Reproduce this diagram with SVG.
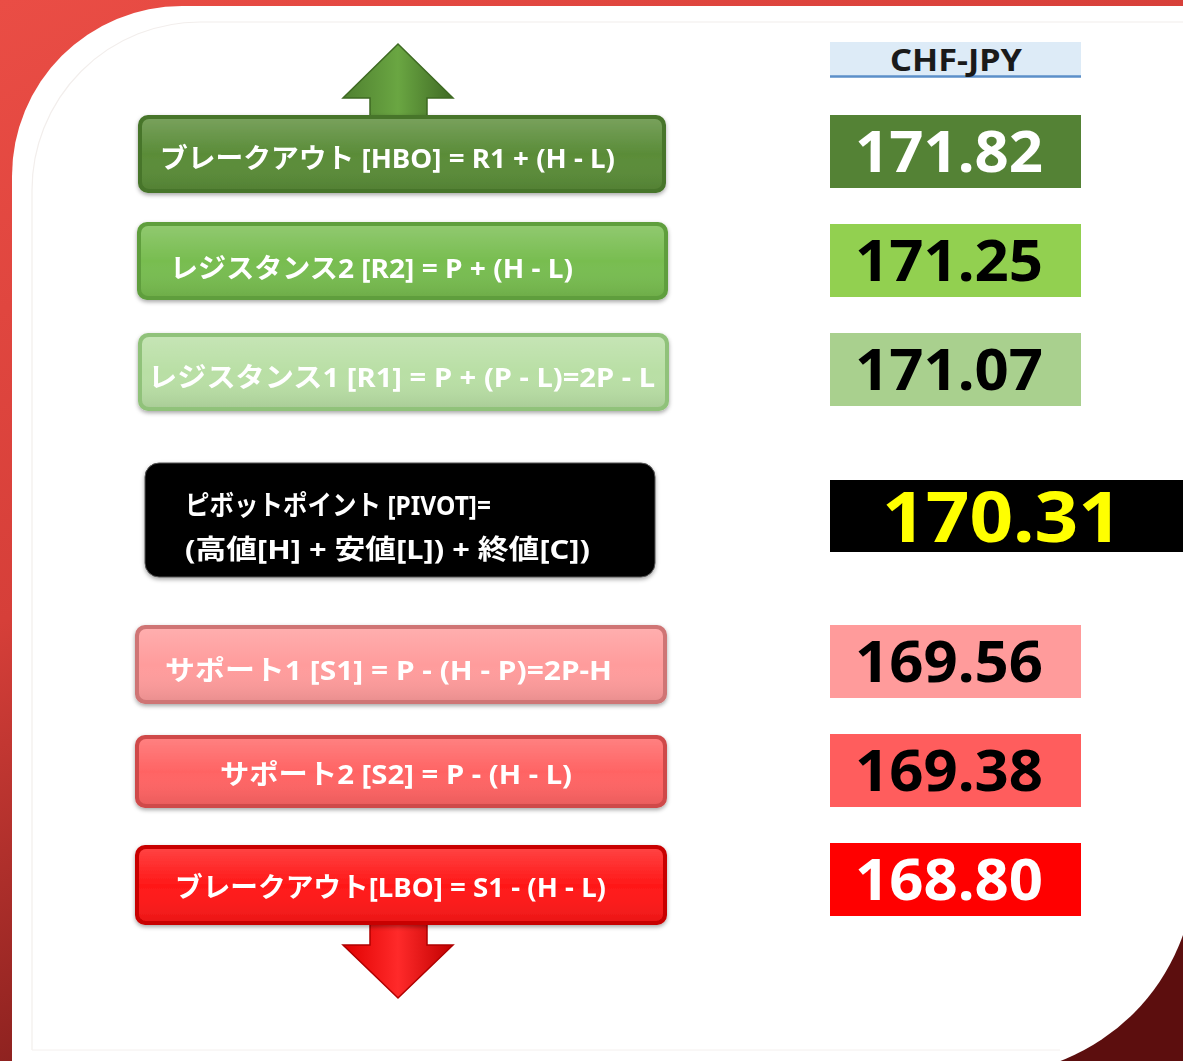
<svg xmlns="http://www.w3.org/2000/svg" width="1183" height="1061" viewBox="0 0 1183 1061">
<defs>
<linearGradient id="bg" x1="0" y1="0" x2="0.55" y2="1">
<stop offset="0" stop-color="#ea4d45"/>
<stop offset="0.45" stop-color="#d63f39"/>
<stop offset="1" stop-color="#5c0e0e"/>
</linearGradient>
<linearGradient id="gUp" x1="0" y1="0" x2="1" y2="0">
<stop offset="0" stop-color="#4f8030"/>
<stop offset="0.5" stop-color="#6aa642"/>
<stop offset="1" stop-color="#3f6a24"/>
</linearGradient>
<linearGradient id="gDown" x1="0" y1="0" x2="1" y2="0">
<stop offset="0" stop-color="#e00000"/>
<stop offset="0.5" stop-color="#ff2a2a"/>
<stop offset="1" stop-color="#c00000"/>
</linearGradient>
<linearGradient id="shine" x1="0" y1="0" x2="0" y2="1">
<stop offset="0" stop-color="#ffffff" stop-opacity="0.18"/>
<stop offset="0.5" stop-color="#ffffff" stop-opacity="0"/>
<stop offset="1" stop-color="#000000" stop-opacity="0.08"/>
</linearGradient>
<filter id="sh" x="-5%" y="-20%" width="110%" height="150%">
<feDropShadow dx="0" dy="2" stdDeviation="2" flood-color="#000" flood-opacity="0.35"/>
</filter>
</defs>
<style>
.lbl{font-family:"Noto Sans","Noto Sans CJK JP",sans-serif;font-weight:700;fill:#ffffff;font-size:27.5px}
.num{font-family:"Noto Sans","DejaVu Sans",sans-serif;font-weight:700;font-size:58px}
.hdr{font-family:"Noto Sans","DejaVu Sans",sans-serif;font-weight:700;font-size:30px;fill:#1a1a1a}
.inner{fill:url(#shine)}
</style>

<rect x="0" y="0" width="1183" height="1061" fill="url(#bg)"/>
<path d="M12,1075 L12,176 A170,170 0 0 1 182,6 L1195,6 L1195,865 A210,210 0 0 1 985,1075 Z" fill="#ffffff"/>
<path d="M32,1050 L32,190 A168,168 0 0 1 200,22 L1183,22" fill="none" stroke="#f2eeec" stroke-width="1.2"/>
<line x1="32" y1="1050" x2="1060" y2="1050" stroke="#f4f0ee" stroke-width="1"/>

<g id="connectors">
<path id="arrow-up" d="M398,44 L453,98 L427,98 L427,116 L370,116 L370,98 L343,98 Z" fill="url(#gUp)" stroke="#3e6a22" stroke-width="1.5" stroke-linejoin="miter"/>
<path id="arrow-down" d="M370,922 L427,922 L427,945 L453,945 L398,998 L343,945 L370,945 Z" fill="url(#gDown)" stroke="#b00000" stroke-width="1.5"/>
</g>

<g id="hbo" filter="url(#sh)">
<rect x="138" y="115" width="528" height="78" rx="10" fill="#46752a"/>
<rect x="142" y="119" width="520" height="70" rx="7" fill="#5a8c38"/>
<rect x="142" y="119" width="520" height="70" rx="7" class="inner"/>
<text class="lbl" x="160" y="168" textLength="455" lengthAdjust="spacingAndGlyphs">ブレークアウト [HBO] = R1 + (H - L)</text>
</g>

<g id="r2" filter="url(#sh)">
<rect x="137" y="222" width="531" height="78" rx="10" fill="#5e9e3c"/>
<rect x="141" y="226" width="523" height="70" rx="7" fill="#78bd50"/>
<rect x="141" y="226" width="523" height="70" rx="7" class="inner"/>
<text class="lbl" x="170" y="278" textLength="403" lengthAdjust="spacingAndGlyphs">レジスタンス2 [R2] = P + (H - L)</text>
</g>

<g id="r1" filter="url(#sh)">
<rect x="138" y="333" width="531" height="78" rx="10" fill="#90c27a"/>
<rect x="142" y="337" width="523" height="70" rx="7" fill="#b9dfa5"/>
<rect x="142" y="337" width="523" height="70" rx="7" class="inner"/>
<text class="lbl" x="148" y="387" textLength="507" lengthAdjust="spacingAndGlyphs">レジスタンス1 [R1] = P + (P - L)=2P - L</text>
</g>

<g id="pivot" filter="url(#sh)">
<rect x="145" y="463" width="510" height="114" rx="14" fill="#000000" stroke="#555555" stroke-width="1"/>
<text class="lbl" x="185" y="515" textLength="306" lengthAdjust="spacingAndGlyphs">ピボットポイント [PIVOT]=</text>
<text class="lbl" x="185" y="559" textLength="405" lengthAdjust="spacingAndGlyphs">(高値[H] + 安値[L]) + 終値[C])</text>
</g>

<g id="s1" filter="url(#sh)">
<rect x="135" y="625" width="532" height="79" rx="10" fill="#cf7474"/>
<rect x="139" y="629" width="524" height="71" rx="7" fill="#ff9c9c"/>
<rect x="139" y="629" width="524" height="71" rx="7" class="inner"/>
<text class="lbl" x="165" y="680" textLength="447" lengthAdjust="spacingAndGlyphs">サポート1 [S1] = P - (H - P)=2P-H</text>
</g>

<g id="s2" filter="url(#sh)">
<rect x="135" y="735" width="532" height="73" rx="10" fill="#cf4a4a"/>
<rect x="139" y="739" width="524" height="65" rx="7" fill="#ff6464"/>
<rect x="139" y="739" width="524" height="65" rx="7" class="inner"/>
<text class="lbl" x="220" y="784" textLength="352" lengthAdjust="spacingAndGlyphs">サポート2 [S2] = P - (H - L)</text>
</g>

<g id="lbo" filter="url(#sh)">
<rect x="135" y="845" width="532" height="80" rx="10" fill="#c80000"/>
<rect x="139" y="849" width="524" height="72" rx="7" fill="#ff1818"/>
<rect x="139" y="849" width="524" height="72" rx="7" class="inner"/>
<text class="lbl" x="175" y="897" textLength="431" lengthAdjust="spacingAndGlyphs">ブレークアウト[LBO] = S1 - (H - L)</text>
</g>

<g id="header">
<rect x="830" y="42" width="251" height="35" fill="#ddebf7"/>
<line x1="830" y1="76.5" x2="1081" y2="76.5" stroke="#5b8fc9" stroke-width="2.5"/>
<text class="hdr" x="890" y="71" textLength="132" lengthAdjust="spacingAndGlyphs">CHF-JPY</text>
</g>

<g id="v-hbo">
<rect x="830" y="115" width="251" height="73" fill="#548235"/>
<text class="num" x="855" y="172" fill="#ffffff" textLength="188" lengthAdjust="spacingAndGlyphs">171.82</text>
</g>
<g id="v-r2">
<rect x="830" y="224" width="251" height="73" fill="#92d050"/>
<text class="num" x="855" y="281" fill="#000000" textLength="188" lengthAdjust="spacingAndGlyphs">171.25</text>
</g>
<g id="v-r1">
<rect x="830" y="333" width="251" height="73" fill="#a9d08e"/>
<text class="num" x="855" y="390" fill="#000000" textLength="188" lengthAdjust="spacingAndGlyphs">171.07</text>
</g>
<g id="v-pivot">
<rect x="830" y="480" width="353" height="72" fill="#000000"/>
<text class="num" x="882" y="542" fill="#ffff00" style="font-size:70px" textLength="240" lengthAdjust="spacingAndGlyphs">170.31</text>
</g>
<g id="v-s1">
<rect x="830" y="625" width="251" height="73" fill="#ff9b9b"/>
<text class="num" x="855" y="682" fill="#000000" textLength="188" lengthAdjust="spacingAndGlyphs">169.56</text>
</g>
<g id="v-s2">
<rect x="830" y="734" width="251" height="73" fill="#ff5d5d"/>
<text class="num" x="855" y="791" fill="#000000" textLength="188" lengthAdjust="spacingAndGlyphs">169.38</text>
</g>
<g id="v-lbo">
<rect x="830" y="843" width="251" height="73" fill="#ff0000"/>
<text class="num" x="855" y="900" fill="#ffffff" textLength="188" lengthAdjust="spacingAndGlyphs">168.80</text>
</g>
</svg>
